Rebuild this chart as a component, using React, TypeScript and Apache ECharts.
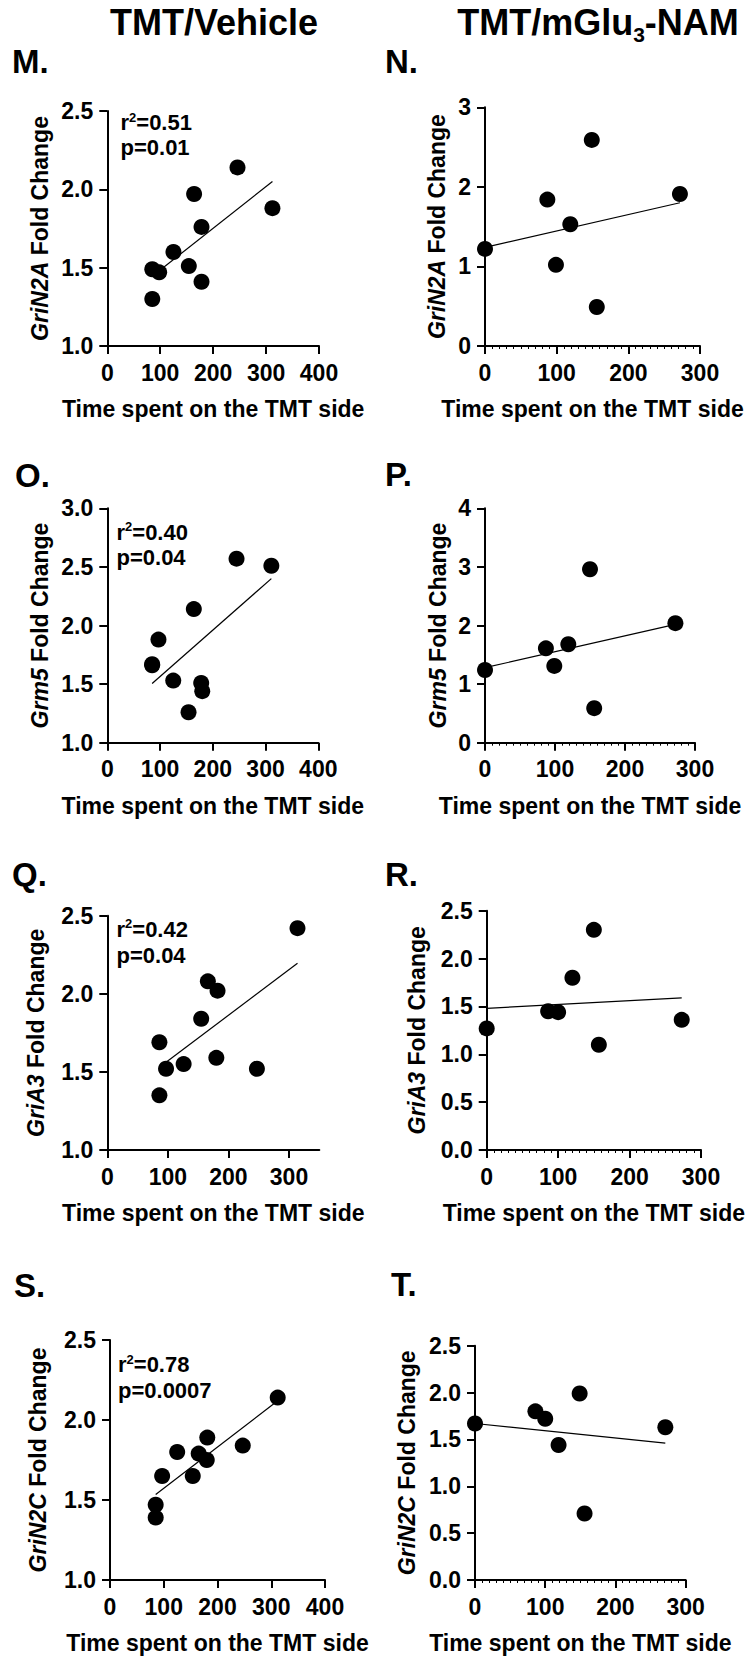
import { useEffect, useRef } from "react";
import * as echarts from "echarts";

const FONT = '"Liberation Sans", Arial, Helvetica, sans-serif';

// Time spent on the TMT side (s) and mRNA fold change, TMT/Vehicle animals
const vehTimeGriN2A = [85, 85, 98, 125, 154, 164, 178, 178, 246, 312];
const vehFoldGriN2A = [1.49, 1.3, 1.47, 1.6, 1.51, 1.97, 1.76, 1.41, 2.14, 1.88];
const vehTimeGrm5 = [85, 85, 97, 125, 154, 164, 178, 180, 245, 311];
const vehFoldGrm5 = [1.67, 1.66, 1.88, 1.53, 1.26, 2.14, 1.51, 1.44, 2.57, 2.51];
const vehTimeGriA3 = [86, 86, 97, 126, 155, 166, 180, 182, 247, 314];
const vehFoldGriA3 = [1.69, 1.35, 1.52, 1.55, 1.84, 2.08, 1.59, 2.02, 1.52, 2.42];
const vehTimeGriN2C = [85, 85, 97, 125, 154, 165, 180, 181, 247, 312];
const vehFoldGriN2C = [1.47, 1.39, 1.65, 1.8, 1.65, 1.79, 1.75, 1.89, 1.84, 2.14];

// TMT/mGlu3-NAM animals
const namTimeGriN2A = [0, 87, 99, 119, 149, 156, 272];
const namFoldGriN2A = [1.22, 1.84, 1.02, 1.53, 2.59, 0.49, 1.91];
const namTimeGrm5 = [0, 87, 99, 119, 150, 156, 272];
const namFoldGrm5 = [1.24, 1.61, 1.31, 1.68, 2.96, 0.59, 2.04];
const namTimeGriA3 = [0, 86, 100, 120, 150, 157, 273];
const namFoldGriA3 = [1.27, 1.45, 1.44, 1.8, 2.3, 1.1, 1.36];
const namTimeGriN2C = [0, 86, 100, 119, 149, 156, 271];
const namFoldGriN2C = [1.67, 1.8, 1.72, 1.44, 1.99, 0.71, 1.63];

// Linear-fit fold change at the shortest and the longest time of each group
const fitVehGriN2A = [1.445, 2.05];
const fitNamGriN2A = [1.24, 1.8];
const fitVehGrm5 = [1.505, 2.4];
const fitNamGrm5 = [1.28, 2.02];
const fitVehGriA3 = [1.53, 2.195];
const fitNamGriA3 = [1.48, 1.59];
const fitVehGriN2C = [1.535, 2.12];
const fitNamGriN2C = [1.67, 1.46];

// Regression statistics printed on the vehicle panels
const statsR2 = ["0.51", "0.40", "0.42", "0.78"];
const statsP = ["0.01", "0.04", "0.04", "0.0007"];

const xTicks400 = [0, 100, 200, 300, 400];
const xTicks300 = [0, 100, 200, 300];

type Panel = {
  letter: string;
  gene: string;
  time: number[];
  fold: number[];
  fit: number[];
  box: [number, number, number, number];
  xMax: number;
  xTicks: number[];
  yMin: number;
  yMax: number;
  yStep: number;
  yDigits: number;
  yNameGap: number;
  minor: boolean;
  letterPos: [number, number];
  stat?: number;
  statPos?: [number, number, number];
};

const panels: Panel[] = [
  {
    letter: "M.", gene: "GriN2A", time: vehTimeGriN2A, fold: vehFoldGriN2A, fit: fitVehGriN2A,
    box: [107.3, 111, 211.7, 235], xMax: 400, xTicks: xTicks400,
    yMin: 1, yMax: 2.5, yStep: 0.5, yDigits: 1, yNameGap: 55.5, minor: false,
    letterPos: [12, 61.5], stat: 0, statPos: [120.5, 122, 147.5],
  },
  {
    letter: "N.", gene: "GriN2A", time: namTimeGriN2A, fold: namFoldGriN2A, fit: fitNamGriN2A,
    box: [485, 107.3, 215, 238.7], xMax: 300, xTicks: xTicks300,
    yMin: 0, yMax: 3, yStep: 1, yDigits: 0, yNameGap: 36.5, minor: true,
    letterPos: [385, 61.5],
  },
  {
    letter: "O.", gene: "Grm5", time: vehTimeGrm5, fold: vehFoldGrm5, fit: fitVehGrm5,
    box: [107.3, 508.3, 211, 234.4], xMax: 400, xTicks: xTicks400,
    yMin: 1, yMax: 3, yStep: 0.5, yDigits: 1, yNameGap: 55.5, minor: false,
    letterPos: [15, 475], stat: 1, statPos: [116.5, 531.5, 557],
  },
  {
    letter: "P.", gene: "Grm5", time: namTimeGrm5, fold: namFoldGrm5, fit: fitNamGrm5,
    box: [485, 508.3, 210, 234.4], xMax: 300, xTicks: xTicks300,
    yMin: 0, yMax: 4, yStep: 1, yDigits: 0, yNameGap: 35.5, minor: true,
    letterPos: [385, 474],
  },
  {
    letter: "Q.", gene: "GriA3", time: vehTimeGriA3, fold: vehFoldGriA3, fit: fitVehGriA3,
    box: [107.3, 915.7, 212, 234.3], xMax: 350, xTicks: xTicks300,
    yMin: 1, yMax: 2.5, yStep: 0.5, yDigits: 1, yNameGap: 59.5, minor: false,
    letterPos: [12, 874], stat: 2, statPos: [116.5, 928.5, 955],
  },
  {
    letter: "R.", gene: "GriA3", time: namTimeGriA3, fold: namFoldGriA3, fit: fitNamGriA3,
    box: [486.7, 910.7, 214.3, 239.3], xMax: 300, xTicks: xTicks300,
    yMin: 0, yMax: 2.5, yStep: 0.5, yDigits: 1, yNameGap: 58.5, minor: true,
    letterPos: [385, 874],
  },
  {
    letter: "S.", gene: "GriN2C", time: vehTimeGriN2C, fold: vehFoldGriN2C, fit: fitVehGriN2C,
    box: [110, 1340, 215, 240], xMax: 400, xTicks: xTicks400,
    yMin: 1, yMax: 2.5, yStep: 0.5, yDigits: 1, yNameGap: 60.5, minor: false,
    letterPos: [14, 1285], stat: 3, statPos: [118, 1364, 1390],
  },
  {
    letter: "T.", gene: "GriN2C", time: namTimeGriN2C, fold: namFoldGriN2C, fit: fitNamGriN2C,
    box: [475, 1345.7, 210.7, 234.3], xMax: 300, xTicks: xTicks300,
    yMin: 0, yMax: 2.5, yStep: 0.5, yDigits: 1, yNameGap: 56.5, minor: true,
    letterPos: [391, 1284],
  },
];

const boldText = (size: number) => ({
  fontFamily: FONT,
  fontWeight: "bold" as const,
  fontSize: size,
  color: "#000",
});

function buildOption() {
  const grid = panels.map((p) => ({
    left: p.box[0],
    top: p.box[1],
    width: p.box[2],
    height: p.box[3],
    containLabel: false,
  }));

  const xAxis = panels.map((p, i) => ({
    type: "value",
    gridIndex: i,
    min: 0,
    max: p.xMax,
    interval: 100,
    name: "Time spent on the TMT side",
    nameLocation: "middle",
    nameGap: 51.5,
    nameTextStyle: boldText(23),
    axisLine: { show: true, onZero: false, lineStyle: { color: "#000", width: 2 } },
    axisTick: {
      show: true,
      inside: false,
      length: 8,
      customValues: p.xTicks,
      lineStyle: { color: "#000", width: 2 },
    },
    minorTick: {
      show: p.minor,
      splitNumber: 10,
      length: 3,
      lineStyle: { color: "#000", width: 1 },
    },
    axisLabel: { ...boldText(23), margin: 15, customValues: p.xTicks },
    splitLine: { show: false },
    minorSplitLine: { show: false },
  }));

  const yAxis = panels.map((p, i) => ({
    type: "value",
    gridIndex: i,
    min: p.yMin,
    max: p.yMax,
    interval: p.yStep,
    name: `{i|${p.gene}} Fold Change`,
    nameLocation: "middle",
    nameGap: p.yNameGap,
    nameTextStyle: {
      ...boldText(23),
      rich: {
        i: { ...boldText(23), fontStyle: "italic" },
      },
    },
    axisLine: { show: true, onZero: false, lineStyle: { color: "#000", width: 2 } },
    axisTick: { show: true, inside: false, length: 8, lineStyle: { color: "#000", width: 2 } },
    axisLabel: {
      ...boldText(23),
      margin: 14,
      formatter: (v: number) => v.toFixed(p.yDigits),
    },
    splitLine: { show: false },
  }));

  const series: any[] = [];
  panels.forEach((p, i) => {
    const tMin = Math.min(...p.time);
    const tMax = Math.max(...p.time);
    series.push({
      type: "line",
      xAxisIndex: i,
      yAxisIndex: i,
      data: [
        [tMin, p.fit[0]],
        [tMax, p.fit[1]],
      ],
      symbol: "none",
      silent: true,
      lineStyle: { color: "#000", width: 1.2 },
      z: 2,
    });
    series.push({
      type: "scatter",
      xAxisIndex: i,
      yAxisIndex: i,
      data: p.time.map((t, k) => [t, p.fold[k]]),
      symbol: "circle",
      symbolSize: 16,
      clip: false,
      itemStyle: { color: "#000", opacity: 1 },
      z: 3,
    });
  });

  const graphic: any[] = [
    {
      type: "text",
      x: 214,
      y: 22.5,
      style: {
        text: "TMT/Vehicle",
        fontFamily: FONT,
        fontWeight: "bold",
        fontSize: 36,
        fill: "#000",
        align: "center",
        verticalAlign: "middle",
      },
    },
    {
      // "3" dropped below the baseline as a subscript
      type: "text",
      x: 598,
      y: 24.5,
      style: {
        text: "{t|TMT/mGlu}{s|3}{t|-NAM}",
        align: "center",
        verticalAlign: "middle",
        rich: {
          t: {
            fontFamily: FONT,
            fontWeight: "bold",
            fontSize: 36,
            lineHeight: 36,
            verticalAlign: "top",
            fill: "#000",
          },
          s: {
            fontFamily: FONT,
            fontWeight: "bold",
            fontSize: 21,
            lineHeight: 40,
            verticalAlign: "bottom",
            fill: "#000",
          },
        },
      },
    },
  ];

  panels.forEach((p) => {
    graphic.push({
      type: "text",
      x: p.letterPos[0],
      y: p.letterPos[1],
      style: {
        text: p.letter,
        fontFamily: FONT,
        fontWeight: "bold",
        fontSize: 33,
        fill: "#000",
        align: "left",
        verticalAlign: "middle",
      },
    });
    if (p.stat !== undefined && p.statPos) {
      graphic.push({
        type: "text",
        x: p.statPos[0],
        y: p.statPos[1],
        style: {
          text: `{m|r}{u|2}{m|=${statsR2[p.stat]}}`,
          align: "left",
          verticalAlign: "middle",
          rich: {
            m: {
              fontFamily: FONT,
              fontWeight: "bold",
              fontSize: 22,
              lineHeight: 22,
              verticalAlign: "bottom",
              fill: "#000",
            },
            u: {
              fontFamily: FONT,
              fontWeight: "bold",
              fontSize: 13,
              lineHeight: 23,
              verticalAlign: "top",
              fill: "#000",
            },
          },
        },
      });
      graphic.push({
        type: "text",
        x: p.statPos[0],
        y: p.statPos[2],
        style: {
          text: `p=${statsP[p.stat]}`,
          fontFamily: FONT,
          fontWeight: "bold",
          fontSize: 22,
          fill: "#000",
          align: "left",
          verticalAlign: "middle",
        },
      });
    }
  });

  return {
    animation: false,
    backgroundColor: "#fff",
    grid,
    xAxis,
    yAxis,
    series,
    graphic,
  };
}

export default function App() {
  const ref = useRef<HTMLDivElement>(null);

  useEffect(() => {
    if (!ref.current) return;
    const chart = echarts.init(ref.current, undefined, { renderer: "svg" });
    chart.setOption(buildOption() as any);
    return () => chart.dispose();
  }, []);

  return (
    <div
      ref={ref}
      style={{ position: "absolute", left: 0, top: 0, width: 751, height: 1656, background: "#fff" }}
    />
  );
}
